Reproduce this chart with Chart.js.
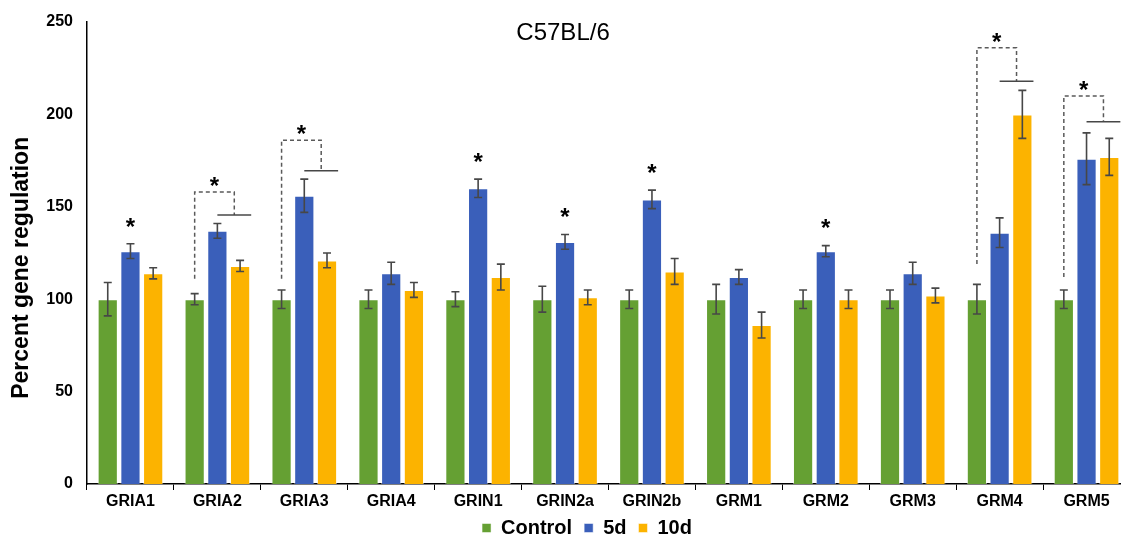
<!DOCTYPE html>
<html>
<head>
<meta charset="utf-8">
<title>C57BL/6 gene regulation</title>
<script src="https://cdn.jsdelivr.net/npm/chart.js@4.4.0/dist/chart.umd.min.js"></script>
<style>
  html, body { margin: 0; padding: 0; background: #fff; overflow: hidden; }
  #wrap { width: 1132px; height: 540px; }
</style>
</head>
<body>
<div id="wrap"><canvas id="geneChart" width="1132" height="540"></canvas></div>
<script>
const genes = ['GRIA1', 'GRIA2', 'GRIA3', 'GRIA4', 'GRIN1', 'GRIN2a', 'GRIN2b', 'GRM1', 'GRM2', 'GRM3', 'GRM4', 'GRM5'];

const control    = [100, 100, 100, 100, 100, 100, 100, 100, 100, 100, 100, 100];
const controlErr = [9, 3, 5, 5, 4, 7, 5, 8, 5, 5, 8, 5];
const day5       = [126, 137, 156, 114, 160, 131, 154, 112, 126, 114, 136, 176];
const day5Err    = [4, 4, 9, 6, 5, 4, 5, 4, 3, 6, 8, 14];
const day10      = [114, 118, 121, 105, 112, 101, 115, 86, 100, 102, 200, 177];
const day10Err   = [3, 3, 4, 4, 7, 4, 7, 7, 5, 4, 13, 10];

const yTicks = [0, 50, 100, 150, 200, 250];

// significance marks
const starGenes = [0, 4, 5, 6, 8];          // single star over 5d
const bracketGenes = [1, 2, 10, 11];        // control vs 5d+10d brackets
const bracketBase  = [111, 111, 119, 112];  // dashed line starts above control
const bracketTop   = [158, 186, 236, 210];
const bracketLine  = [145.5, 169.5, 218, 196];

const errs = [controlErr, day5Err, day10Err];
const FONT = '"Liberation Sans", Arial, sans-serif';

function drawStar(ctx, x, yPix) {
    ctx.fillStyle = '#000';
    ctx.font = 'bold 24px ' + FONT;
    ctx.textAlign = 'center';
    ctx.textBaseline = 'alphabetic';
    ctx.fillText('*', x, yPix + 13);
}

// legend: fixed height, nudged like the original
const legendPlace = {
    id: 'legendPlace',
    beforeInit(chart) {
        const fit = chart.legend.fit;
        chart.legend.fit = function() {
            fit.call(this);
            this.height = 28;
        };
    },
    afterLayout(chart) {
        chart.legend.left += 22;
        chart.legend.right += 22;
        chart.legend.top -= 6;
    }
};

const markers = {
    id: 'markers',
    afterDatasetsDraw(chart) {
        const ctx = chart.ctx;
        const y = chart.scales.y;
        const x = chart.scales.x;
        ctx.save();

        // error bars
        ctx.strokeStyle = '#474747';
        ctx.lineWidth = 1.6;
        chart.data.datasets.forEach((ds, d) => {
            chart.getDatasetMeta(d).data.forEach((bar, i) => {
                const v = ds.data[i], e = errs[d][i];
                const top = y.getPixelForValue(v + e);
                const bot = y.getPixelForValue(v - e);
                ctx.beginPath();
                ctx.moveTo(bar.x, top); ctx.lineTo(bar.x, bot);
                ctx.moveTo(bar.x - 4, top); ctx.lineTo(bar.x + 4, top);
                ctx.moveTo(bar.x - 4, bot); ctx.lineTo(bar.x + 4, bot);
                ctx.stroke();
            });
        });

        // single stars
        starGenes.forEach(i => {
            const bar = chart.getDatasetMeta(1).data[i];
            drawStar(ctx, bar.x, y.getPixelForValue(day5[i] + day5Err[i] + 12));
        });

        // brackets
        bracketGenes.forEach((i, k) => {
            const c = chart.getDatasetMeta(0).data[i];
            const b = chart.getDatasetMeta(1).data[i];
            const t = chart.getDatasetMeta(2).data[i];
            const lineEnd = t.x + t.width / 2 + 1;
            const dropX = (b.x + lineEnd) / 2;
            const topY = y.getPixelForValue(bracketTop[k]);
            const lineY = y.getPixelForValue(bracketLine[k]);

            ctx.strokeStyle = '#5a5a5a';
            ctx.lineWidth = 1.5;
            ctx.setLineDash([4, 3]);
            ctx.beginPath();
            ctx.moveTo(c.x, y.getPixelForValue(bracketBase[k]));
            ctx.lineTo(c.x, topY);
            ctx.lineTo(dropX, topY);
            ctx.lineTo(dropX, lineY);
            ctx.stroke();
            ctx.setLineDash([]);

            ctx.strokeStyle = '#474747';
            ctx.beginPath();
            ctx.moveTo(b.x, lineY);
            ctx.lineTo(lineEnd, lineY);
            ctx.stroke();

            drawStar(ctx, (c.x + dropX) / 2, topY - 11);
        });

        // title inside plot
        ctx.fillStyle = '#000';
        ctx.font = '24px ' + FONT;
        ctx.textAlign = 'center';
        ctx.textBaseline = 'middle';
        ctx.fillText('C57BL/6', x.getPixelForValue(5) - 2, y.getPixelForValue(244));

        // y axis title (sits a little below the plot centre in the original)
        ctx.translate(22, y.getPixelForValue(117));
        ctx.rotate(-Math.PI / 2);
        ctx.font = 'bold 23px ' + FONT;
        ctx.fillText('Percent gene regulation', 0, 0);

        ctx.restore();
    }
};

const ctx = document.getElementById('geneChart').getContext('2d');
const geneChart = new Chart(ctx, {
    type: 'bar',
    data: {
        labels: genes,
        datasets: [
            { label: 'Control', data: control, backgroundColor: '#65A033' },
            { label: '5d', data: day5, backgroundColor: '#3A5FBA' },
            { label: '10d', data: day10, backgroundColor: '#FCB300' }
        ].map(ds => Object.assign(ds, {
            borderColor: 'rgba(255,255,255,0.5)',
            borderWidth: 1,
            barPercentage: 0.89,
            categoryPercentage: 0.784
        }))
    },
    options: {
        responsive: false,
        animation: false,
        layout: { padding: { top: 14, right: 2, bottom: 0, left: 0 } },
        plugins: {
            legend: {
                position: 'bottom',
                labels: {
                    boxWidth: 9,
                    boxHeight: 9,
                    padding: 12,
                    color: '#000',
                    font: { family: FONT, size: 20, weight: 'bold' }
                }
            },
            tooltip: { enabled: false }
        },
        scales: {
            x: {
                afterFit(scale) { scale.height = 28; },
                grid: { offset: true, drawOnChartArea: false, tickLength: 6, color: '#000' },
                border: { color: '#000', width: 1.5 },
                ticks: {
                    color: '#000',
                    padding: 2,
                    font: { family: FONT, size: 16, weight: 'bold' }
                }
            },
            y: {
                min: 0,
                max: 250,
                afterFit(scale) { scale.width = 87; },
                afterBuildTicks(scale) { scale.ticks = yTicks.map(v => ({ value: v })); },
                grid: { display: false, drawTicks: false },
                border: { display: true, color: '#000', width: 1.5 },
                ticks: {
                    color: '#000',
                    padding: 14,
                    font: { family: FONT, size: 16, weight: 'bold', lineHeight: 1 }
                }
            }
        }
    },
    plugins: [markers, legendPlace]
});
</script>
</body>
</html>
